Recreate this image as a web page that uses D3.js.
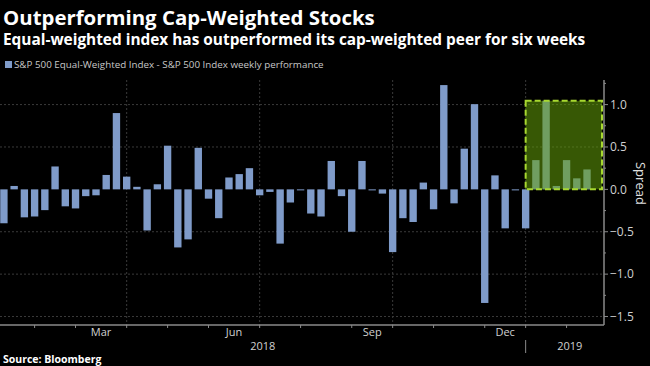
<!DOCTYPE html>
<meta charset="utf-8">
<style>
body { margin: 0; background: #000; }
svg { display: block; background: #000; font-family: "Open Sans", sans-serif; }
.grid line { stroke: #3a3a3a; stroke-dasharray: 2,2; }
.ytick { fill: #d0d0d0; font-size: 12px; }
.xlab { fill: #d0d0d0; font-size: 11px; text-anchor: middle; }
</style>
<body>
<div id="chart"></div>
<script src="https://cdnjs.cloudflare.com/ajax/libs/d3/7.8.5/d3.min.js"></script>
<script>
// weekly observations (Fridays), Jan 12 2018 .. Feb 15 2019
var firstWeek = new Date(2018, 0, 12),
    lastWeek = new Date(2019, 1, 16);
var weeks = d3.timeFriday.range(firstWeek, lastWeek);

var spread = [
  -0.40, 0.04, -0.33, -0.32, -0.245, 0.27, -0.20, -0.225, -0.08, -0.07,
  0.17, 0.90, 0.15, 0.03, -0.485, 0.06, 0.515, -0.685, -0.59, 0.49,
  -0.11, -0.34, 0.14, 0.18, 0.25, -0.07, -0.03, -0.64, -0.155, -0.01,
  -0.285, -0.32, 0.335, -0.08, -0.50, 0.335, -0.01, -0.05, -0.74, -0.34,
  -0.385, 0.08, -0.235, 1.23, -0.165, 0.48, 1.005, -1.34, 0.165, -0.46,
  -0.01, -0.46, 0.345, 1.045, 0.04, 0.345, 0.13, 0.235
];

var yTicks = [1.0, 0.5, 0.0, -0.5, -1.0, -1.5];
var yMinor = [1.25, 0.75, 0.25, -0.25, -0.75, -1.25];
var monthLabels = ["Mar", "Jun", "Sep", "Dec"];
var yearLabels = ["2018", "2019"];

// highlighted six weeks
var highlightFrom = new Date(2019, 0, 4),
    highlightTop = 1.045;

var data = weeks.map(function(d, i) { return {date: d, value: spread[i]}; });

var width = 650, height = 366,
    plotLeft = 0, plotRight = 604, plotTop = 80, plotBottom = 325;

var svg = d3.select("#chart").append("svg")
  .attr("width", width)
  .attr("height", height);

var x = d3.scaleBand()
  .domain(weeks)
  .range([-1.2, -1.2 + weeks.length * 10.23])
  .paddingInner(0.28)
  .paddingOuter(0.14);

var y = d3.scaleLinear()
  .domain([-1.6, 1.29])
  .range([plotBottom, plotTop]);

function cx(d) { return x(d) + x.bandwidth() / 2; }

// title block
svg.append("text").attr("x", 3).attr("y", 25)
  .style("font-size", "20.4px").style("font-weight", 700).attr("fill", "#fff")
  .text("Outperforming Cap-Weighted Stocks");
svg.append("text").attr("x", 3).attr("y", 45)
  .style("font-size", "15.4px").style("font-weight", 700).attr("fill", "#fff")
  .text("Equal-weighted index has outperformed its cap-weighted peer for six weeks");

// legend
svg.append("rect").attr("x", 5).attr("y", 61).attr("width", 7).attr("height", 7)
  .attr("fill", "#7f9bc9");
svg.append("text").attr("x", 14).attr("y", 68)
  .style("font-size", "9.8px").attr("fill", "#c8c8c8")
  .text("S&P 500 Equal-Weighted Index - S&P 500 Index weekly performance");

// month ticks: first week of each month
var monthStarts = weeks.filter(function(d, i) {
  return i > 0 && d.getMonth() != weeks[i - 1].getMonth();
});
var quarterStarts = monthStarts.filter(function(d) { return d.getMonth() % 3 == 0; });

// grid
var grid = svg.append("g").attr("class", "grid");
grid.selectAll(".hg")
  .data(yTicks.filter(function(v) { return v != 0; }))
  .enter().append("line")
  .attr("x1", plotLeft).attr("x2", plotRight)
  .attr("y1", function(d) { return y(d); })
  .attr("y2", function(d) { return y(d); });
grid.selectAll(".vg")
  .data(quarterStarts)
  .enter().append("line")
  .attr("x1", cx).attr("x2", cx)
  .attr("y1", plotTop).attr("y2", plotBottom + 2);

// bars
svg.append("g").selectAll("rect")
  .data(data)
  .enter().append("rect")
  .attr("x", function(d) { return x(d.date); })
  .attr("width", x.bandwidth())
  .attr("y", function(d) { return y(Math.max(0, d.value)); })
  .attr("height", function(d) { return Math.max(1, Math.abs(y(d.value) - y(0))); })
  .attr("fill", "#7f9bc9");

// highlight box
svg.append("rect")
  .attr("x", cx(highlightFrom))
  .attr("y", y(highlightTop))
  .attr("width", plotRight - 2 - cx(highlightFrom))
  .attr("height", y(0) - y(highlightTop))
  .attr("fill", "rgb(100,160,10)")
  .attr("fill-opacity", 0.55)
  .attr("stroke", "#a8d830")
  .attr("stroke-width", 2)
  .attr("stroke-dasharray", "6,3");

// x axis
svg.append("line")
  .attr("x1", plotLeft).attr("x2", plotRight)
  .attr("y1", plotBottom).attr("y2", plotBottom)
  .attr("stroke", "#8a8a8a").attr("stroke-width", 1.5);
svg.append("g").selectAll("line")
  .data(monthStarts)
  .enter().append("line")
  .attr("x1", cx).attr("x2", cx)
  .attr("y1", plotBottom).attr("y2", plotBottom + 3)
  .attr("stroke", "#8a8a8a");

var labelMonths = monthStarts.filter(function(d) { return d.getMonth() % 3 == 2; });
svg.append("g").selectAll("text")
  .data(labelMonths)
  .enter().append("text")
  .attr("class", "xlab")
  .attr("x", function(d, i) {
    var k = monthStarts.indexOf(d);
    return (cx(d) + cx(monthStarts[k + 1])) / 2;
  })
  .attr("y", 336)
  .text(function(d, i) { return monthLabels[i]; });

var yearStart = monthStarts.filter(function(d) { return d.getMonth() == 0; })[0];
svg.append("text").attr("class", "xlab")
  .attr("x", (plotLeft + cx(yearStart)) / 2).attr("y", 350)
  .text(yearLabels[0]);
svg.append("text").attr("class", "xlab")
  .attr("x", (cx(yearStart) + plotRight) / 2 + 5).attr("y", 350)
  .text(yearLabels[1]);
svg.append("line")
  .attr("x1", cx(yearStart)).attr("x2", cx(yearStart))
  .attr("y1", 340).attr("y2", 353)
  .attr("stroke", "#8a8a8a");

// y axis on the right
svg.append("line")
  .attr("x1", plotRight).attr("x2", plotRight)
  .attr("y1", plotTop).attr("y2", plotBottom)
  .attr("stroke", "#8a8a8a").attr("stroke-width", 1.5);
svg.append("g").selectAll("line")
  .data(yTicks)
  .enter().append("line")
  .attr("x1", plotRight).attr("x2", plotRight + 4)
  .attr("y1", function(d) { return y(d); })
  .attr("y2", function(d) { return y(d); })
  .attr("stroke", "#8a8a8a");
svg.append("g").selectAll("line")
  .data(yMinor)
  .enter().append("line")
  .attr("x1", plotRight).attr("x2", plotRight + 2)
  .attr("y1", function(d) { return y(d); })
  .attr("y2", function(d) { return y(d); })
  .attr("stroke", "#8a8a8a");
svg.append("g").selectAll("text")
  .data(yTicks)
  .enter().append("text")
  .attr("class", "ytick")
  .attr("x", plotRight + 6)
  .attr("y", function(d) { return y(d); })
  .attr("dy", "0.35em")
  .text(function(d) { return d3.format(".1f")(d); });

svg.append("text")
  .attr("transform", "translate(636," + y(0.07) + ") rotate(90)")
  .attr("text-anchor", "middle")
  .style("font-size", "13px").attr("fill", "#e0e0e0")
  .text("Spread");

// source
svg.append("text").attr("x", 3).attr("y", 363)
  .style("font-size", "10.5px").style("font-weight", 700).attr("fill", "#fff")
  .text("Source: Bloomberg");
</script>
</body>
